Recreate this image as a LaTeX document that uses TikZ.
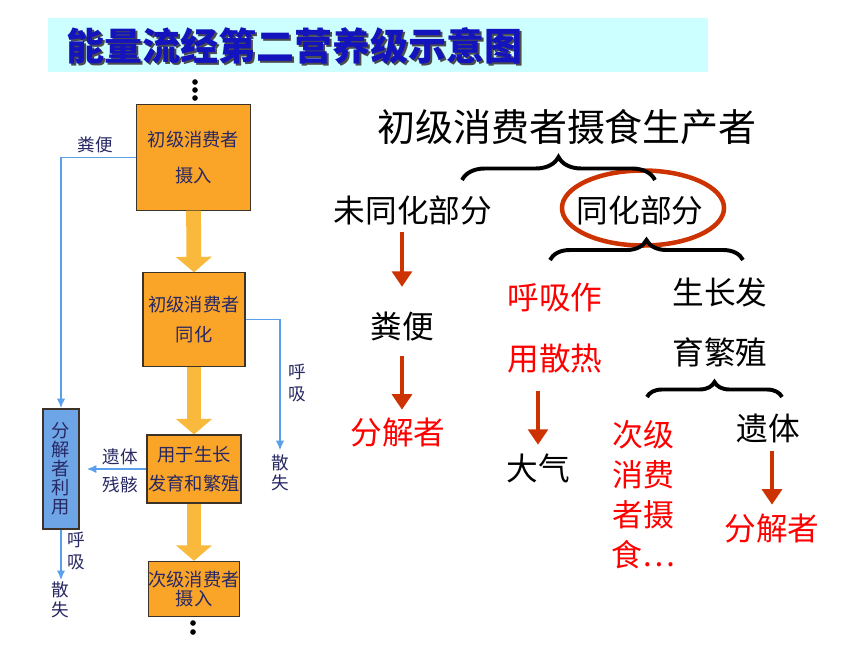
\documentclass[tikz,border=0pt]{standalone}
\usepackage{fontspec}
\setmainfont{Noto Sans CJK SC}
\usepackage{tikz}
\usetikzlibrary{shapes,arrows.meta,positioning,calc,decorations.pathreplacing}
\definecolor{banner}{RGB}{204,255,255}
\definecolor{titleblue}{RGB}{20,20,190}
\definecolor{boxorange}{RGB}{250,165,40}
\definecolor{arroworange}{RGB}{248,185,60}
\definecolor{boxline}{RGB}{60,50,40}
\definecolor{flowblue}{RGB}{90,160,235}
\definecolor{decompfill}{RGB}{110,165,230}
\definecolor{navy}{RGB}{40,40,100}
\definecolor{arrowred}{RGB}{204,51,0}
\definecolor{textred}{RGB}{255,0,0}
\tikzstyle{stage} = [draw=boxline, thick, rectangle, fill=boxorange, text=navy,
    align=center, inner sep=0pt, font=\fontsize{13}{21}\selectfont]
\tikzstyle{flow} = [draw=arroworange, line width=10.5pt, -{Triangle[width=25pt,length=11pt]}]
\tikzstyle{loss} = [draw=flowblue, line width=1.4pt, -{Latex[width=6pt,length=7pt]}]
\tikzstyle{side} = [text=navy, align=center, inner sep=1pt, font=\fontsize{12.5}{15}\selectfont]
\tikzstyle{word} = [inner sep=2pt, align=center, font=\fontsize{22.5}{27}\selectfont]
\tikzstyle{hot} = [word, text=textred]
\tikzstyle{connector} = [draw=arrowred, line width=2.8pt, -{Triangle[width=14pt,length=11pt]}]
\tikzstyle{ring} = [draw=arrowred, ellipse, line width=3.2pt, minimum width=4.05cm, minimum height=1.875cm]
\tikzstyle{dot} = [circle, fill, inner sep=0pt, minimum size=4pt]
\tikzstyle{coord} = [coordinate]

\begin{document}
\begin{tikzpicture}[x=0.025cm, y=-0.025cm]
    \useasboundingbox (0,0) rectangle (860,645);
    % title
    \node (banner) [rectangle, fill=banner, minimum width=16.5cm, minimum height=1.35cm] at (378,45) {};
    \node (titleshade) [anchor=west, text=black!70, font=\fontsize{27}{30}\selectfont\bfseries] at (63.5,47.5) {能量流经第二营养级示意图};
    \node (title) [anchor=west, text=titleblue, font=\fontsize{27}{30}\selectfont\bfseries] at (62,46) {能量流经第二营养级示意图};

    % left chart
    \foreach \y in {82,90,98} \node (dottop\y) [dot] at (195,\y) {};
    \node (intake) [stage, minimum width=2.83cm, minimum height=2.63cm, font=\fontsize{13}{25}\selectfont] at (193.5,157.5) {初级消费者\\摄入};
    \node (assimL) [stage, minimum width=2.55cm, minimum height=2.33cm] at (194,319.5) {初级消费者\\同化};
    \node (growL) [stage, minimum width=2.35cm, minimum height=1.7cm] at (194,469) {用于生长\\发育和繁殖};
    \node (next) [stage, minimum width=2.2cm, minimum height=1.38cm, font=\fontsize{13}{14}\selectfont] at (194,589) {次级消费者\\摄入};
    \foreach \y in {623,632} \node (dotbot\y) [dot] at (193,\y) {};
    \node (decomp) [draw=boxline, thick, fill=decompfill, text=navy, align=center, inner sep=0pt,
        minimum width=0.9cm, minimum height=3cm, font=\fontsize{13}{13.5}\selectfont] at (61,469) {分\\解\\者\\利\\用};

    \draw [flow] (intake.south) -- (assimL.north);
    \draw [flow] (assimL.south) -- (growL.north);
    \draw [flow] (growL.south) -- (next.north);

    \node (lossA) [side, font=\fontsize{12.5}{14}\selectfont] at (280,473) {散\\失};
    \node (lossB) [side, font=\fontsize{12.5}{14}\selectfont] at (60,600) {散\\失};
    \draw [loss] (intake.west) -| (decomp.north);
    \draw [loss, shorten >=2pt] (assimL.east) -| (lossA.north);
    \draw [loss, shorten >=5pt] (growL.west) -- (growL.west -| decomp.east);
    \draw [loss] (decomp.south) -- (decomp.south |- lossB.north);
    \node (fecesL) [side] at (95,145) {粪便};
    \node (respA) [side, font=\fontsize{12.5}{15}\selectfont] at (297,383) {呼\\吸};
    \node (respB) [side, font=\fontsize{12.5}{15}\selectfont] at (76,551) {呼\\吸};
    \node (remainsL) [side, font=\fontsize{12.5}{20}\selectfont] at (120,471) {遗体\\残骸};

    % right side
    \node (eat) [word, font=\fontsize{27}{30}\selectfont] at (567,127) {初级消费者摄食生产者};
    \node (unassim) [word] at (413,210) {未同化部分};
    \node (assim) [word] at (640,210) {同化部分};
    \node (ring) [ring] at (643,208) {};
    \node (feces) [word] at (402,327) {粪便};
    \node (decompA) [hot] at (398,433) {分解者};
    \node (resp) [hot, font=\fontsize{22.5}{43}\selectfont] at (555,328) {呼吸作\\用散热};
    \node (air) [word] at (538,468) {大气};
    \node (grow) [word, font=\fontsize{22.5}{43}\selectfont] at (720,322.5) {生长发\\育繁殖};
    \node (nextR) [hot, font=\fontsize{22}{28.4}\selectfont] at (643,495) {次级\\消费\\者摄\\食…};
    \node (remains) [word] at (768,428) {遗体};
    \node (decompB) [hot] at (772,528) {分解者};

    \coordinate (b1l) at (462,180);
    \coordinate (b1r) at (655,180);
    \coordinate (b2l) at (550,260);
    \coordinate (b2r) at (743,260);
    \coordinate (b3l) at (647,397);
    \coordinate (b3r) at (782,397);
    \draw [decorate, decoration={brace, amplitude=0.575cm}, line width=2.8pt] (b1l) -- (b1r);
    \draw [decorate, decoration={brace, amplitude=0.5cm}, line width=2.8pt] (b2l) -- (b2r);
    \draw [decorate, decoration={brace, amplitude=0.375cm}, line width=2.8pt] (b3l) -- (b3r);

    \draw [connector, shorten <=3pt, shorten >=16pt] (unassim.south -| feces.north) -- (feces.north);
    \draw [connector, shorten <=8pt, shorten >=4pt] (feces.south) -- (feces.south |- decompA.north);
    \draw [connector, shorten <=11pt, shorten >=4pt] (resp.south -| air.north) -- (air.north);
    \draw [connector, shorten <=3.5pt, shorten >=4pt] (remains.south -| decompB.north) -- (decompB.north);
\end{tikzpicture}
\end{document}
